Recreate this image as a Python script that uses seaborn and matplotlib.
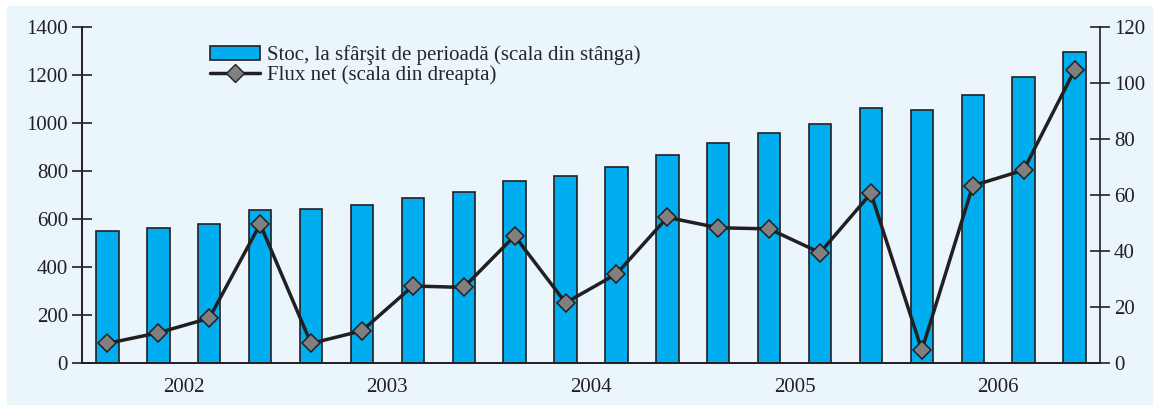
import numpy as np
import pandas as pd
import matplotlib
matplotlib.use("Agg")
import matplotlib.pyplot as plt
from matplotlib.patches import Rectangle, Patch
from matplotlib.lines import Line2D
import seaborn as sns

# Quarterly data 2002-2006
years = ['2002', '2003', '2004', '2005', '2006']
stoc = [551, 564, 579, 637, 643, 657, 686, 714, 758, 780,
        818, 867, 915, 960, 996, 1061, 1054, 1117, 1190, 1297]
flux = [7.0, 10.8, 16.0, 49.6, 7.0, 11.5, 27.5, 27.0, 45.4, 21.5,
        31.8, 52.0, 48.3, 47.9, 39.4, 60.6, 4.6, 63.3, 68.9, 104.6]
left_ticks = [0, 200, 400, 600, 800, 1000, 1200, 1400]
right_ticks = [0, 20, 40, 60, 80, 100, 120]
lbl_bar = 'Stoc, la sfârşit de perioadă (scala din stânga)'
lbl_line = 'Flux net (scala din dreapta)'

df = pd.DataFrame({'q': range(len(stoc)), 'stoc': stoc, 'flux': flux})

bg = '#EAF5FC'
bar_col = '#00AEEF'
ink = '#231F20'
fs = 15

sns.set_style('white')
plt.rcParams['font.family'] = ['Liberation Serif', 'DejaVu Serif']
plt.rcParams['font.size'] = fs

fig = plt.figure(figsize=(11.53, 4.07), dpi=100)
fig.patch.set_facecolor('white')
fig.patches.append(Rectangle((7 / 1153, 2 / 407), 1146 / 1153, 399 / 407,
                             transform=fig.transFigure, facecolor=bg,
                             edgecolor='none', zorder=-10))

ax = fig.add_axes([82 / 1153, 44 / 407, 1018 / 1153, 336 / 407])
ax.set_facecolor('none')
ax.set_zorder(1)

sns.barplot(data=df, x='q', y='stoc', color=bar_col, saturation=1,
            width=0.44, edgecolor=ink, linewidth=1.2, ax=ax, native_scale=True)
ax.set_xlim(-0.5, len(stoc) - 0.5)
ax.set_ylim(0, 1400)
ax.set_yticks(left_ticks)
ax.set_xlabel('')
ax.set_ylabel('')

ax2 = ax.twinx()
sns.lineplot(data=df, x='q', y='flux', ax=ax2, color=ink, linewidth=2.5,
             marker='D', markersize=9.5, markerfacecolor='#808080',
             markeredgecolor=ink, markeredgewidth=1.1)
ax2.set_ylim(0, 120)
ax2.set_yticks(right_ticks)
ax2.set_ylabel('')
ax2.set_xlabel('')

# year separators as major ticks, year names as minor labels
ax.set_xticks(np.arange(-0.5, len(stoc), 4))
ax.set_xticklabels([])
ax.set_xticks(np.arange(1.5, len(stoc), 4), minor=True)
ax.set_xticklabels(years, minor=True)
ax.tick_params(axis='x', which='major', direction='out', length=8, width=1.2, color=ink)
ax.tick_params(axis='x', which='minor', length=0, pad=11, labelsize=fs, labelcolor=ink)
ax.tick_params(axis='y', direction='inout', length=14, width=1.2, color=ink,
               pad=3, labelsize=fs, labelcolor=ink)
ax2.tick_params(axis='y', direction='inout', length=14, width=1.2, color=ink,
                pad=3, labelsize=fs, labelcolor=ink)

for a in (ax, ax2):
    a.spines['top'].set_visible(False)
    for s in ('left', 'right', 'bottom'):
        a.spines[s].set_color(ink)
        a.spines[s].set_linewidth(1.2)
    a.set_facecolor('none')
ax.spines['right'].set_visible(False)
ax2.set_zorder(2)

handles = [Patch(facecolor=bar_col, edgecolor=ink, linewidth=1.2),
           Line2D([], [], color=ink, linewidth=2.5, marker='D', markersize=9.5,
                  markerfacecolor='#808080', markeredgecolor=ink)]
ax2.legend(handles, [lbl_bar, lbl_line], loc='upper left',
           bbox_to_anchor=(0.118, 0.97), frameon=False, fontsize=fs,
           handlelength=2.4, handletextpad=0.3, labelspacing=0.0,
           borderaxespad=0)

fig.savefig('out.png', dpi=100, facecolor='white')
